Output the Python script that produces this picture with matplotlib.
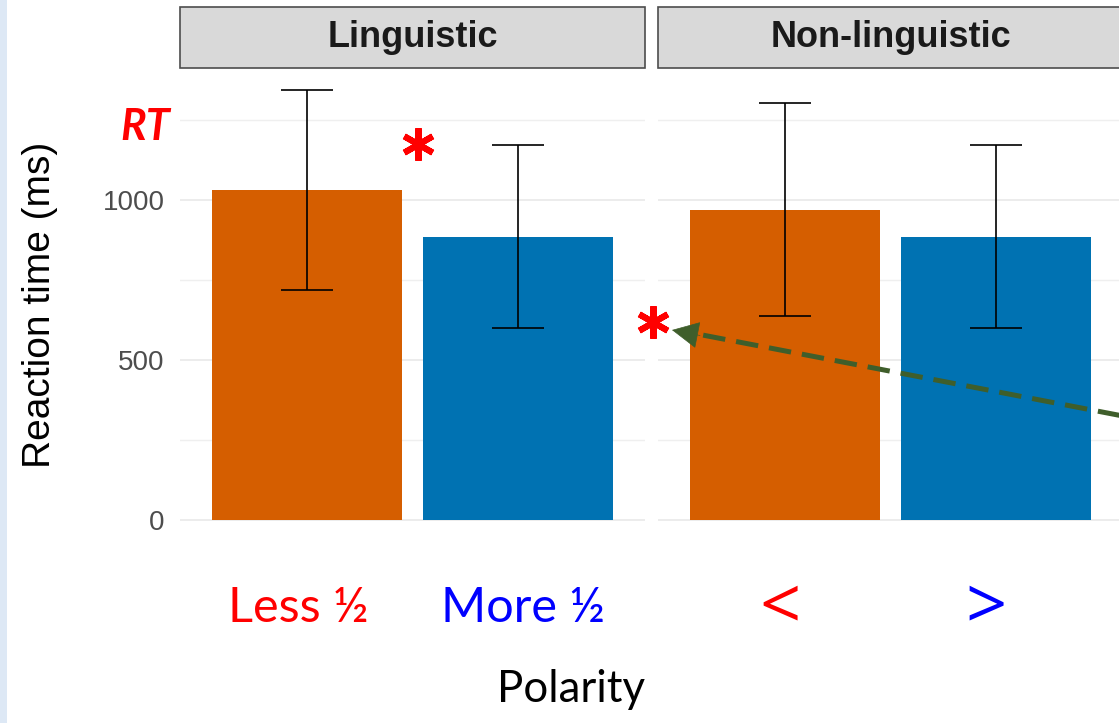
import matplotlib
matplotlib.use("Agg")
import matplotlib.pyplot as plt
from matplotlib.patches import Rectangle, FancyArrowPatch
from matplotlib.lines import Line2D

# ---- data -------------------------------------------------------------
panel_titles = ["Linguistic", "Non-linguistic"]
ling_rt = [1031, 884]          # mean reaction time (ms): Less, More
ling_err = [314, 286]
nonling_rt = [969, 884]        # mean reaction time (ms): <, >
nonling_err = [333, 286]
bar_colors = ["#D55E00", "#0072B2"]
x_labels = [["Less ½", "More ½"], ["<", ">"]]
label_colors = ["#FF0000", "#0000FF"]
y_major = [0, 500, 1000]
y_minor = [250, 750, 1250]

# ---- figure -----------------------------------------------------------
W, H, DPI = 1119, 723, 100
fig = plt.figure(figsize=(W / DPI, H / DPI), dpi=DPI)
fig.patch.set_facecolor("white")


def fx(x):
    return x / W


def fy(y):
    return 1 - y / H


ARIAL = ["Liberation Sans", "DejaVu Sans"]
SLIDE = ["Lato", "DejaVu Sans"]
SYMB = ["Open Sans", "DejaVu Sans"]

top = max(max(m + e for m, e in zip(ling_rt, ling_err)),
          max(m + e for m, e in zip(nonling_rt, nonling_err)))
ymin, ymax = -0.05 * top, 1.05 * top

panel_left = [180, 658]
panel_w, panel_top, panel_bot = 465, 68, 541
series = [(ling_rt, ling_err), (nonling_rt, nonling_err)]
axes = []
for i, (title, (vals, errs)) in enumerate(zip(panel_titles, series)):
    ax = fig.add_axes([fx(panel_left[i]), fy(panel_bot),
                       panel_w / W, (panel_bot - panel_top) / H])
    xs = list(range(1, len(vals) + 1))
    ax.bar(xs, vals, width=0.9, color=bar_colors, zorder=2)
    ax.errorbar(xs, vals, yerr=errs, fmt="none", ecolor="black",
                elinewidth=1.2, capsize=19, capthick=1.2, zorder=3)
    ax.set_xlim(0.4, 2.6)
    ax.set_ylim(ymin, ymax)
    ax.set_xticks([])
    ax.set_yticks(y_major)
    ax.set_yticks(y_minor, minor=True)
    ax.grid(True, axis="y", which="major", color="#e9e9e9", lw=1.2, zorder=0)
    ax.grid(True, axis="y", which="minor", color="#efefef", lw=1.0, zorder=0)
    ax.tick_params(which="both", length=0, pad=11, labelsize=20,
                   labelcolor="#4d4d4d")
    for lab in ax.get_yticklabels():
        lab.set_family(ARIAL)
    if i > 0:
        ax.tick_params(labelleft=False)
    for s in ax.spines.values():
        s.set_visible(False)
    ax.set_axisbelow(True)
    # facet strip
    sh = (panel_top - 7) / (panel_bot - panel_top)
    ax.add_patch(Rectangle((0, 1.0), 1, sh, transform=ax.transAxes,
                           clip_on=False, fc="#d9d9d9", ec="#4d4d4d",
                           lw=1.2, zorder=5))
    ax.text(0.5, 1.0 + sh / 2, title, transform=ax.transAxes, ha="center",
            va="center", fontsize=26, fontweight="bold", color="#1a1a1a",
            family=ARIAL, zorder=6)
    axes.append(ax)

# y-axis title
fig.text(fx(40), fy(305), "Reaction time (ms)", rotation=90, ha="center",
         va="center", fontsize=28, color="black", family=ARIAL)

# slide annotations: category labels and axis title
label_x = [[298, 523], [780, 986]]
label_size = [35, 52]
label_base = [622, 628]
label_family = [SLIDE, SYMB]
for row_lab, row_x, size, base, fam in zip(x_labels, label_x, label_size,
                                           label_base, label_family):
    for lab, xpix, col in zip(row_lab, row_x, label_colors):
        fig.text(fx(xpix), fy(base), lab, ha="center", va="baseline",
                 fontsize=size, color=col, family=fam)
fig.text(fx(571), fy(702), "Polarity", ha="center", va="baseline",
         fontsize=31.5, color="black", family=SLIDE)

fig.text(fx(145), fy(140), "RT", ha="center", va="baseline", fontsize=31,
         fontweight="bold", fontstyle="italic", color="#FF0000", family=SLIDE)

# significance asterisks (six-armed)
for cx, cy in [(418, 144), (653, 322)]:
    fig.add_artist(Line2D([fx(cx)], [fy(cy)], transform=fig.transFigure,
                          marker=(6, 2, 0), markersize=23.5, mew=4.4,
                          color="#FF0000", linestyle="none"))

# dashed green arrow pointing at the second asterisk
green = "#3f5e2b"
tip = (672, 330)
start = (1180, 427)
neck = (692, 333)
fig.add_artist(Line2D([fx(start[0]), fx(neck[0])], [fy(start[1]), fy(neck[1])],
                      transform=fig.transFigure, color=green, lw=3.6,
                      linestyle=(0, (4.5, 2.2)), solid_capstyle="butt"))
fig.add_artist(FancyArrowPatch((fx(700), fy(335.5)), (fx(tip[0]), fy(tip[1])),
                               transform=fig.transFigure,
                               arrowstyle="-|>,head_length=1.0,head_width=0.5",
                               mutation_scale=18, color=green, lw=0.5,
                               shrinkA=0, shrinkB=0))

# pale slide border on the left
fig.add_artist(Rectangle((0, 0), 7 / W, 1, transform=fig.transFigure,
                         fc="#dde8f5", ec="none"))

fig.savefig("out.png", dpi=DPI)
